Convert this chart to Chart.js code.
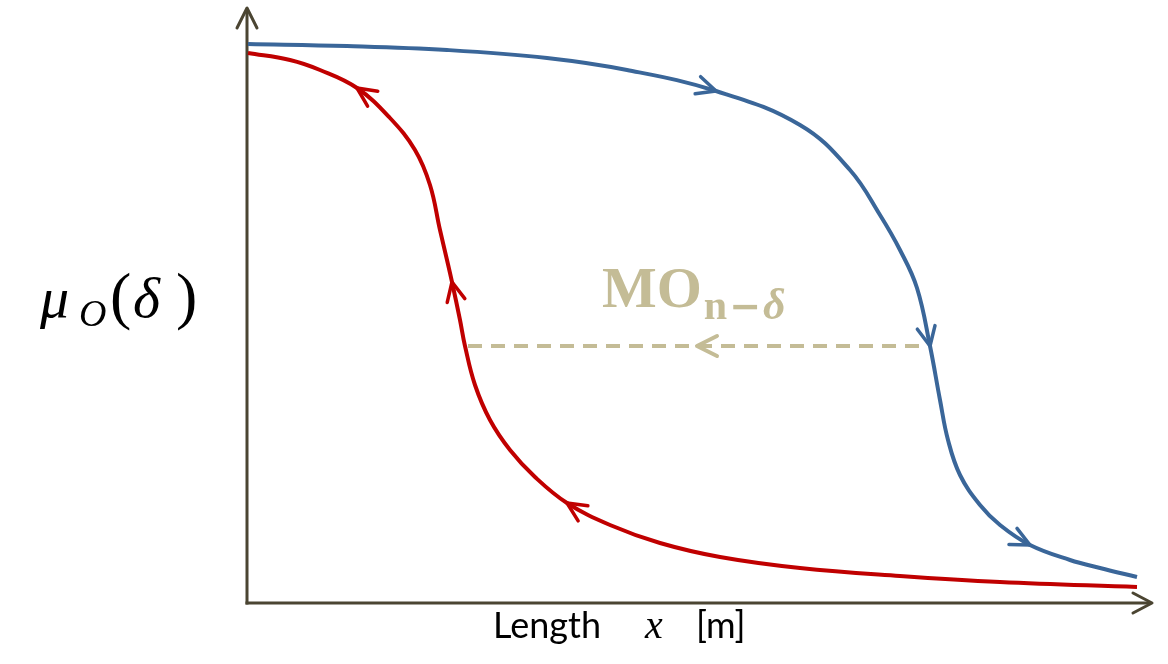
<!DOCTYPE html>
<html><head><meta charset="utf-8">
<script src="https://cdn.jsdelivr.net/npm/chart.js@4/dist/chart.umd.min.js"></script>
<style>html,body{margin:0;padding:0;background:#fff}#wrap{width:1168px;height:664px}</style>
</head><body><div id="wrap"><canvas id="c"></canvas></div>
<script>
// values (x: length units from origin, y: mu units from baseline)
const blueX = [1,100,200,300,380,469,553,603,633,653,670,683,693,701,713,733,753,783,823,853,890];
const blueY = [559,557,553,545,533,512,478,433,388,353,315,257,203,163,128,98,78,58,43,35,26];
const redX  = [1,43,73,110,143,168,183,193,200,205,213,218,228,243,263,288,320,363,413,473,553,653,753,890];
const redY  = [550,543,533,515,485,453,418,373,343,321,283,257,218,183,153,126,100,78,60,46,35,27,21,16];
const dashX = [221,678];
const dashY = [257,257];
// arrow markers: [dataset, index, reverse]
const arrowSpecs = [[0,5,false],[0,11,false],[0,17,false],[1,3,true],[1,9,true],[1,16,true]];

const BLUE='#3a6699', RED='#c00000', TAN='#c4bc96', AXIS='#4b4532';
const toPts=(xs,ys)=>xs.map((x,i)=>({x:x,y:ys[i]}));

function chevron(ctx,tx,ty,dx,dy,len,half,color,w){
  const L=Math.hypot(dx,dy); dx/=L; dy/=L;
  const nx=-dy, ny=dx;
  ctx.save(); ctx.strokeStyle=color; ctx.lineWidth=w; ctx.lineCap='round'; ctx.lineJoin='round';
  ctx.beginPath();
  ctx.moveTo(tx-dx*len+nx*half, ty-dy*len+ny*half);
  ctx.lineTo(tx,ty);
  ctx.lineTo(tx-dx*len-nx*half, ty-dy*len-ny*half);
  ctx.stroke(); ctx.restore();
}
function runs(ctx,x,y,parts){
  parts.forEach(([txt,font,dy,gap])=>{ctx.font=font;ctx.fillText(txt,x,y+(dy||0));x+=ctx.measureText(txt).width+(gap||0);});
}
function put(ctx,txt,font,x,y){ctx.font=font;ctx.fillText(txt,x,y);}

const deco = {
  id:'deco',
  beforeDatasetsDraw(chart){
    const ctx=chart.ctx, xs=chart.scales.x, ys=chart.scales.y;
    const ox=xs.getPixelForValue(0), oy=ys.getPixelForValue(0);
    const top=chart.chartArea.top, right=chart.chartArea.right;
    ctx.save(); ctx.strokeStyle=AXIS; ctx.lineWidth=3;
    ctx.beginPath(); ctx.moveTo(ox,oy+1.5); ctx.lineTo(ox,top+1); ctx.stroke();
    ctx.beginPath(); ctx.moveTo(ox-1.5,oy); ctx.lineTo(right+1,oy); ctx.stroke();
    ctx.restore();
    chevron(ctx,ox,top,0,-1,20,10,AXIS,3);
    chevron(ctx,right+2,oy,1,0,19,10,AXIS,3);
  },
  afterDatasetsDraw(chart){
    const ctx=chart.ctx, xs=chart.scales.x, ys=chart.scales.y;
    const cols=[BLUE,RED];
    arrowSpecs.forEach(([d,i,rev])=>{
      const pts=chart.getDatasetMeta(d).data;
      const p=pts[i], a=pts[i-1], b=pts[i+1];
      let dx=b.x-a.x, dy=b.y-a.y; if(rev){dx=-dx;dy=-dy;}
      chevron(ctx,p.x,p.y,dx,dy,19,9,cols[d],3.5);
    });
    // dashed arrow
    const mx=xs.getPixelForValue(450), my=ys.getPixelForValue(dashY[0]);
    chevron(ctx,mx,my,-1,0,20,10,TAN,4);
    // MO label
    ctx.save(); ctx.fillStyle=TAN; ctx.textBaseline='alphabetic';
    runs(ctx,xs.getPixelForValue(355),ys.getPixelForValue(296),[
      ['MO','bold 58px "Liberation Serif"',0,2],
      ['n','bold 42px "Liberation Serif"',12,2],
      ['\u2212','bold 38px "DejaVu Sans"',12,2],
      ['\u03B4','bold italic 44px "Liberation Serif"',12,0]
    ]);
    ctx.restore();
    // y title
    ctx.save(); ctx.fillStyle='#000'; ctx.textBaseline='alphabetic';
    put(ctx,'\u03BC','italic 58px "Liberation Serif"',40,317);
    put(ctx,'O','italic 38px "Liberation Serif"',79,326);
    put(ctx,'(','64px "Liberation Serif"',110,317);
    put(ctx,'\u03B4','italic 58px "Liberation Serif"',133,317);
    put(ctx,')','64px "Liberation Serif"',176,317);
    // x title
    put(ctx,'Length','36px Lato',493,638);
    put(ctx,'x','italic 40px "Liberation Serif"',645,638);
    put(ctx,'[m]','36px Lato',696,638);
    ctx.restore();
  }
};

new Chart(document.getElementById('c'),{
  type:'line',
  data:{datasets:[
    {data:toPts(blueX,blueY),borderColor:BLUE,borderWidth:4,pointRadius:0,tension:0.4,clip:false},
    {data:toPts(redX,redY),borderColor:RED,borderWidth:4,pointRadius:0,tension:0.4,clip:false},
    {data:toPts(dashX,dashY),borderColor:TAN,borderWidth:4,borderDash:[14,9],pointRadius:0,clip:false}
  ]},
  options:{
    responsive:true,maintainAspectRatio:false,animation:false,
    layout:{padding:{left:247,right:18,top:8,bottom:61}},
    plugins:{legend:{display:false},tooltip:{enabled:false}},
    events:[],
    scales:{
      x:{type:'linear',min:0,max:903,display:false},
      y:{type:'linear',min:0,max:595,display:false}
    }
  },
  plugins:[deco]
});
</script></body></html>
